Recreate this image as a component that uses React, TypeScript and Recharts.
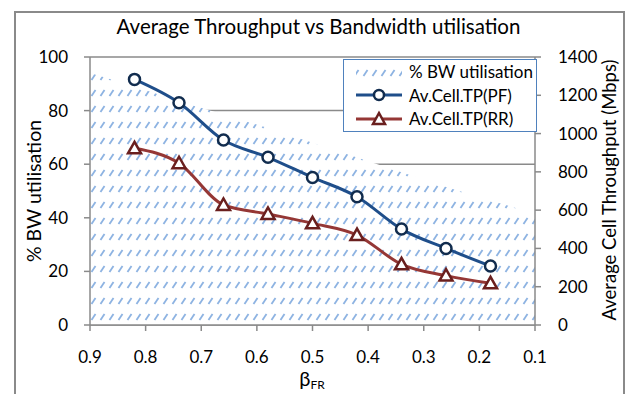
import { ComposedChart, Area, Line, XAxis, YAxis, CartesianGrid } from 'recharts'

// beta_FR positions of the area (bandwidth) and of the two throughput lines
const bwX = [0.9, 0.82, 0.74, 0.66, 0.58, 0.5, 0.42, 0.34, 0.26, 0.18, 0.1]
const bwUtil = [94, 89, 83.5, 78.5, 73.5, 68, 62.5, 57, 51.5, 46.5, 41.5]

const betaX = [0.82, 0.74, 0.66, 0.58, 0.5, 0.42, 0.34, 0.26, 0.18]
const tpPF = [1283, 1161, 966, 876, 771, 670, 501, 400, 308]
const tpRR = [923, 845, 627, 580, 531, 470, 317, 258, 218]

const xTicks = [0.9, 0.8, 0.7, 0.6, 0.5, 0.4, 0.3, 0.2, 0.1]
const leftTicks = [0, 20, 40, 60, 80, 100]
const rightTicks = [0, 200, 400, 600, 800, 1000, 1200, 1400]

const rows = bwX.map((x, i) => {
  const j = betaX.indexOf(x)
  return {
    x,
    bw: bwUtil[i],
    pf: j >= 0 ? tpPF[j] : null,
    rr: j >= 0 ? tpRR[j] : null,
  }
})

const GRAY = '#8a8a8a'
const HATCH = '#8db3e2'
const PF = '#1f4e8a'
const PF_DARK = '#112c4e'
const RR = '#953735'
const RR_DARK = '#6a1f1e'
const FONT = 'Lato, sans-serif'

const Triangle = (props: any) => {
  const { cx, cy } = props
  if (cx == null || cy == null || props.value == null) return null
  return (
    <polygon
      key={`t-${cx}`}
      points={`${cx},${cy - 6.5} ${cx - 6.5},${cy + 5} ${cx + 6.5},${cy + 5}`}
      fill="#fff"
      stroke={RR_DARK}
      strokeWidth={2.5}
    />
  )
}

function Hatch({ id, y = 4 }: { id: string; y?: number }) {
  return (
    <pattern id={id} patternUnits="userSpaceOnUse" x={0} y={y} width={9} height={16}>
      <rect width={9} height={16} fill="#fff" />
      <line x1={1.5} y1={12} x2={5.5} y2={6} stroke={HATCH} strokeWidth={1.8} />
    </pattern>
  )
}

export default function App() {
  return (
    <div
      style={{
        position: 'absolute',
        left: 0,
        top: 0,
        width: 629,
        height: 394,
        background: '#fff',
        overflow: 'hidden',
        fontFamily: FONT,
      }}
    >
      <div
        style={{
          position: 'absolute',
          left: 14,
          top: 11,
          width: 607,
          height: 420,
          border: `2px solid ${GRAY}`,
        }}
      />
      <div
        style={{
          position: 'absolute',
          left: 4,
          width: 629,
          top: 14,
          textAlign: 'center',
          fontSize: 20.5,
          color: '#000',
        }}
      >
        Average Throughput vs Bandwidth utilisation
      </div>
      <div style={{ position: 'absolute', left: 0, top: 0 }}>
        <ComposedChart width={629} height={394} data={rows} margin={{ top: 57, right: 0, bottom: 0, left: 0 }}>
          <defs>
            <Hatch id="bwHatch" />
          </defs>
          <CartesianGrid yAxisId="left" vertical={false} stroke={GRAY} strokeWidth={1.5} />
          <XAxis
            dataKey="x"
            type="number"
            domain={[0.1, 0.9]}
            reversed
            ticks={xTicks}
            tickFormatter={(v) => Number(v).toFixed(1)}
            height={69}
            tick={{ fill: '#000', fontSize: 17, fontFamily: FONT }}
            tickSize={6}
            tickMargin={20}
            axisLine={{ stroke: GRAY, strokeWidth: 1.5 }}
            tickLine={{ stroke: GRAY, strokeWidth: 1.5 }}
            label={{
              content: () => (
                <text x={312} y={386} textAnchor="middle" fontFamily={FONT} fill="#000">
                  <tspan fontSize={20}>β</tspan>
                  <tspan fontSize={12} dy={2.5}>FR</tspan>
                </text>
              ),
            }}
          />
          <YAxis
            yAxisId="left"
            orientation="left"
            width={90}
            domain={[0, 100]}
            ticks={leftTicks}
            tick={{ fill: '#000', fontSize: 17, fontFamily: FONT }}
            tickSize={6}
            tickMargin={16}
            axisLine={{ stroke: GRAY, strokeWidth: 1.5 }}
            tickLine={{ stroke: GRAY, strokeWidth: 1.5 }}
            label={{
              content: () => (
                <text
                  x={33}
                  y={191}
                  transform="rotate(-90 33 191)"
                  textAnchor="middle"
                  dominantBaseline="central"
                  fontSize={19.5}
                  fontFamily={FONT}
                  fill="#000"
                >
                  % BW utilisation
                </text>
              ),
            }}
          />
          <YAxis
            yAxisId="right"
            orientation="right"
            width={94}
            domain={[0, 1400]}
            ticks={rightTicks}
            tick={{ fill: '#000', fontSize: 17, fontFamily: FONT, textAnchor: 'start' }}
            tickSize={6}
            tickMargin={17}
            axisLine={{ stroke: GRAY, strokeWidth: 1.5 }}
            tickLine={{ stroke: GRAY, strokeWidth: 1.5 }}
            label={{
              content: () => (
                <text
                  x={609}
                  y={190}
                  transform="rotate(-90 609 190)"
                  textAnchor="middle"
                  dominantBaseline="central"
                  fontSize={18.5}
                  fontFamily={FONT}
                  fill="#000"
                >
                  Average Cell Throughput (Mbps)
                </text>
              ),
            }}
          />
          <Area
            yAxisId="left"
            type="linear"
            dataKey="bw"
            stroke="none"
            fill="url(#bwHatch)"
            fillOpacity={1}
            isAnimationActive={false}
          />
          <Line
            yAxisId="right"
            type="monotone"
            dataKey="pf"
            stroke={PF}
            strokeWidth={3}
            dot={{ r: 5.5, stroke: PF_DARK, strokeWidth: 2.5, fill: '#fff' }}
            isAnimationActive={false}
          />
          <Line
            yAxisId="right"
            type="monotone"
            dataKey="rr"
            stroke={RR}
            strokeWidth={3}
            dot={<Triangle />}
            isAnimationActive={false}
          />
        </ComposedChart>
      </div>
      <div
        style={{
          position: 'absolute',
          left: 343,
          top: 59,
          width: 192,
          height: 71,
          border: '1.5px solid #4f81bd',
          background: '#fff',
          fontSize: 17,
          color: '#000',
        }}
      >
        {[
          { name: '% BW utilisation', kind: 'area' },
          { name: 'Av.Cell.TP(PF)', kind: 'pf' },
          { name: 'Av.Cell.TP(RR)', kind: 'rr' },
        ].map((item) => (
          <div key={item.name} style={{ display: 'flex', alignItems: 'center', height: 23.5 }}>
            <svg width={62} height={20} style={{ flex: 'none' }}>
              {item.kind === 'area' && (
                <>
                  <defs>
                    <Hatch id="legendHatch" y={2} />
                  </defs>
                  <rect x={12} y={4} width={46} height={12} fill="url(#legendHatch)" />
                </>
              )}
              {item.kind === 'pf' && (
                <>
                  <line x1={12} y1={10} x2={58} y2={10} stroke={PF} strokeWidth={3} />
                  <circle cx={35} cy={10} r={5} fill="#fff" stroke={PF_DARK} strokeWidth={2.5} />
                </>
              )}
              {item.kind === 'rr' && (
                <>
                  <line x1={12} y1={10} x2={58} y2={10} stroke={RR} strokeWidth={3} />
                  <polygon points="35,4 29,15 41,15" fill="#fff" stroke={RR_DARK} strokeWidth={2.5} />
                </>
              )}
            </svg>
            <span style={{ marginLeft: 3, whiteSpace: 'nowrap' }}>{item.name}</span>
          </div>
        ))}
      </div>
    </div>
  )
}
